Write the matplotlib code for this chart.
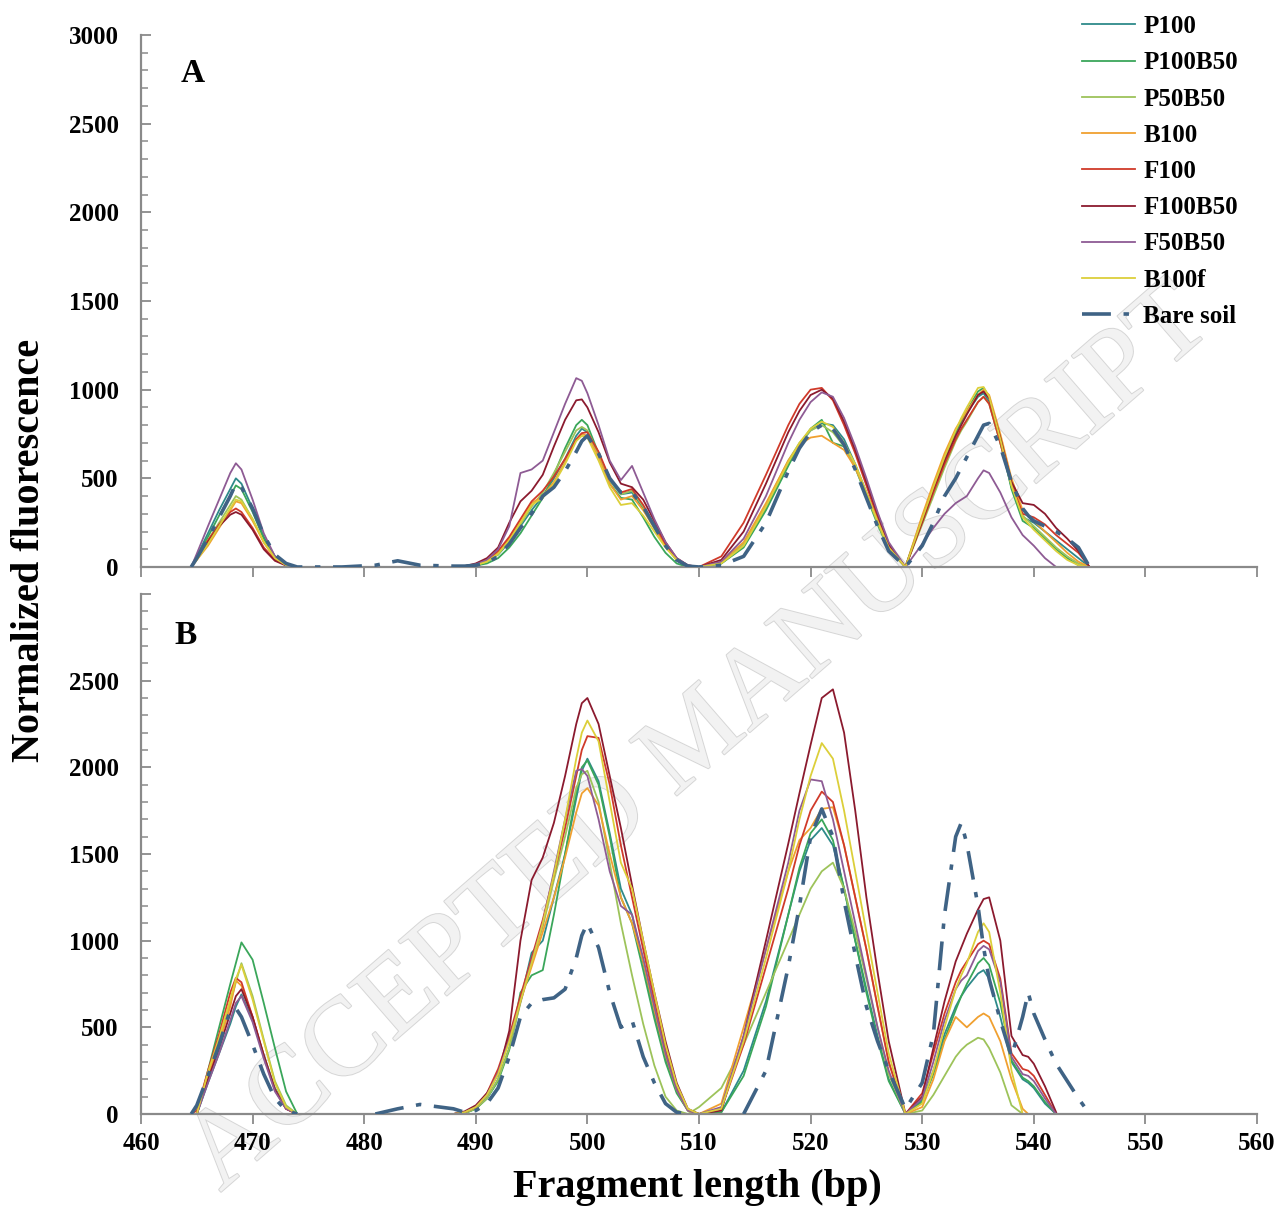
import numpy as np
import matplotlib
matplotlib.use("Agg")
import matplotlib.pyplot as plt
import matplotlib.patheffects as pe
from matplotlib.ticker import MultipleLocator

nan = float('nan')

# ---------------- data ----------------
X_BP = [464.5, 465, 466, 467, 468, 468.5, 469, 470, 471, 472, 473, 474,
        478, 481, 483, 485, 488,
        489, 490, 491, 492, 493, 494, 495, 496, 497, 498, 499, 499.5, 500, 501, 502, 503, 504, 505, 506, 507, 508, 509, 510,
        512, 514, 516, 518, 519, 520, 521, 522, 523, 524, 525, 526, 527, 528.5,
        530, 531, 532, 533, 533.5, 534, 535, 535.5, 536, 537, 538, 539, 539.5, 540, 541, 542, 543, 544, 545]

SERIES = ["P100", "P100B50", "P50B50", "B100", "F100", "F100B50", "F50B50", "B100f", "Bare soil"]

# Panel A
A_P100 = [0, 60, 190, 320, 440, 500, 470, 330, 170, 60, 15, 0,
          0, 0, 0, 0, 0,
          5, 10, 30, 70, 140, 230, 320, 400, 500, 610, 740, 780, 760, 640, 490, 410, 420, 330, 220, 120, 40, 5, 0,
          20, 120, 330, 580, 690, 770, 810, 800, 720, 580, 420, 260, 110, 0,
          280, 450, 620, 760, 820, 870, 960, 980, 930, 700, 450, 280, 265, 250, 200, 150, 100, 50, 0]
A_P100B50 = [0, 55, 170, 290, 400, 460, 440, 310, 160, 60, 15, 0,
             0, 0, 0, 0, 0,
             3, 8, 20, 50, 110, 190, 290, 390, 520, 670, 800, 830, 800, 640, 470, 390, 380, 280, 170, 80, 20, 0, 0,
             20, 110, 320, 570, 690, 780, 830, 700, 680, 560, 400, 240, 100, 0,
             260, 430, 600, 760, 820, 880, 990, 1010, 960, 720, 440, 260, 240, 220, 160, 100, 50, 10, 0]
A_P50B50 = [0, 50, 150, 250, 350, 400, 380, 270, 140, 50, 10, 0,
            0, 0, 0, 0, 0,
            5, 10, 30, 70, 150, 240, 340, 420, 530, 650, 770, 790, 770, 640, 490, 410, 430, 340, 230, 120, 40, 5, 0,
            25, 130, 350, 600, 700, 770, 800, 760, 680, 560, 410, 250, 100, 0,
            240, 400, 560, 710, 770, 820, 930, 960, 920, 700, 460, 290, 260, 230, 170, 110, 60, 20, 0]
A_B100 = [0, 40, 120, 220, 320, 370, 360, 260, 140, 50, 10, 0,
          0, 0, 0, 0, 0,
          5, 12, 35, 80, 160, 260, 360, 400, 480, 590, 720, 750, 740, 620, 470, 380, 400, 320, 220, 120, 40, 5, 0,
          30, 140, 360, 600, 690, 730, 740, 700, 660, 560, 420, 260, 110, 0,
          290, 470, 640, 780, 830, 880, 970, 1000, 970, 750, 500, 320, 290, 260, 200, 140, 80, 30, 0]
A_F100 = [0, 50, 150, 240, 310, 330, 310, 220, 110, 40, 10, 0,
          0, 0, 0, 0, 0,
          5, 15, 40, 90, 170, 270, 370, 430, 510, 610, 720, 755, 760, 650, 500, 420, 440, 350, 240, 130, 45, 8, 0,
          60, 250, 520, 800, 920, 1000, 1010, 940, 800, 640, 460, 280, 120, 0,
          250, 420, 580, 720, 780, 830, 930, 960, 920, 700, 470, 300, 290, 280, 240, 180, 130, 80, 0]
A_F100B50 = [0, 45, 140, 230, 295, 310, 295, 210, 100, 35, 8, 0,
             0, 0, 0, 0, 0,
             5, 20, 50, 110, 250, 370, 430, 520, 680, 830, 940, 945, 900, 760, 590, 470, 450, 380, 260, 140, 50, 10, 0,
             40, 200, 470, 760, 880, 970, 1000, 950, 820, 660, 480, 300, 130, 0,
             260, 440, 600, 740, 800, 860, 970, 990, 950, 730, 480, 360, 355, 350, 300, 220, 160, 90, 0]
A_F50B50 = [0, 75, 230, 380, 530, 585, 550, 380, 190, 60, 10, 0,
            0, 0, 0, 0, 0,
            5, 15, 40, 100, 230, 530, 550, 600, 760, 920, 1065, 1050, 980, 800, 600, 490, 570, 420, 270, 140, 50, 10, 0,
            30, 160, 400, 700, 830, 930, 985, 960, 840, 680, 500, 310, 140, 0,
            130, 220, 300, 360, 380, 400, 500, 545, 530, 420, 280, 180, 150, 120, 50, 0, nan, nan, nan]
A_B100f = [0, 40, 130, 230, 330, 380, 370, 270, 140, 50, 10, 0,
           0, 0, 0, 0, 0,
           5, 10, 30, 75, 150, 250, 350, 390, 470, 580, 710, 740, 730, 600, 450, 350, 360, 290, 200, 110, 40, 5, 0,
           20, 120, 340, 590, 700, 780, 820, 790, 700, 580, 420, 260, 110, 0,
           270, 450, 620, 770, 840, 900, 1010, 1015, 960, 720, 460, 280, 245, 210, 150, 90, 40, 10, 0]
A_BARE = [0, 50, 160, 280, 400, 470, 450, 330, 180, 70, 20, 0,
          0, 10, 35, 10, 5,
          5, 10, 25, 60, 130, 220, 300, 400, 450, 540, 650, 710, 740, 640, 500, 420, 420, 340, 230, 120, 40, 5, 0,
          10, 60, 250, 540, 670, 760, 800, 780, 690, 550, 390, 230, 90, 0,
          120, 250, 400, 500, 560, 620, 740, 800, 810, 680, 480, 330, 290, 260, 230, 200, 160, 110, 0]

# Panel B
B_P100 = [0, 0, 180, 350, 520, 620, 690, 540, 340, 150, 40, 0,
          nan, nan, nan, nan, 0,
          5, 30, 90, 200, 380, 650, 930, 1000, 1250, 1500, 1820, 1980, 2050, 1920, 1620, 1300, 1150, 870, 580, 320, 130, 20, 0,
          10, 250, 650, 1150, 1400, 1580, 1650, 1550, 1300, 1000, 720, 450, 200, 0,
          80, 250, 460, 620, 680, 730, 810, 830, 780, 560, 300, 200, 180, 150, 60, 0, nan, nan, nan]
B_P100B50 = [0, 0, 250, 500, 750, 870, 990, 890, 640, 380, 130, 0,
             nan, nan, nan, nan, 0,
             5, 30, 90, 190, 370, 700, 800, 830, 1150, 1500, 1850, 2000, 2040, 1900, 1600, 1250, 1100, 830, 550, 300, 120, 20, 0,
             10, 220, 620, 1150, 1420, 1620, 1700, 1580, 1300, 1000, 700, 430, 190, 0,
             70, 230, 430, 600, 680, 750, 870, 900, 860, 640, 310, 210, 190, 160, 70, 0, nan, nan, nan]
B_P50B50 = [0, 0, 220, 420, 640, 760, 870, 680, 430, 190, 50, 0,
            nan, nan, nan, nan, 0,
            5, 30, 90, 200, 380, 640, 880, 1080, 1350, 1600, 1880, 1960, 1980, 1800, 1450, 1100, 800, 520, 280, 100, 20, 0, 40,
            150, 400, 700, 1000, 1150, 1300, 1400, 1450, 1300, 1050, 780, 500, 230, 0,
            20, 110, 220, 330, 370, 400, 440, 430, 380, 240, 50, 0, nan, nan, nan, nan, nan, nan, nan]
B_B100 = [0, 0, 220, 410, 620, 770, 740, 560, 340, 140, 30, 0,
          nan, nan, nan, nan, 0,
          10, 40, 110, 240, 430, 650, 850, 1050, 1250, 1480, 1740, 1850, 1880, 1780, 1500, 1250, 1100, 880, 600, 340, 140, 20, 0,
          60, 500, 950, 1400, 1580, 1650, 1760, 1770, 1550, 1250, 950, 620, 300, 0,
          40, 200, 420, 560, 530, 500, 560, 580, 560, 420, 200, 30, 0, nan, nan, nan, nan, nan, nan]
B_F100 = [0, 20, 250, 460, 700, 785, 760, 560, 330, 140, 30, 0,
          nan, nan, nan, nan, 0,
          10, 40, 120, 260, 450, 680, 900, 1120, 1380, 1650, 1950, 2100, 2180, 2170, 1900, 1550, 1250, 950, 650, 370, 150, 25, 0,
          30, 400, 850, 1300, 1550, 1750, 1860, 1800, 1550, 1250, 950, 620, 300, 0,
          120, 350, 580, 760, 830, 880, 980, 1000, 980, 780, 350, 260, 250, 220, 110, 0, nan, nan, nan]
B_F100B50 = [0, 0, 200, 380, 580, 680, 720, 560, 340, 140, 30, 0,
             nan, nan, nan, nan, 0,
             15, 50, 120, 230, 480, 1000, 1350, 1480, 1680, 1950, 2250, 2370, 2400, 2250, 1950, 1650, 1320, 1000, 700, 420, 180, 30, 0,
             20, 450, 1000, 1560, 1850, 2130, 2400, 2450, 2200, 1750, 1250, 820, 420, 0,
             100, 380, 650, 880, 960, 1040, 1180, 1240, 1250, 1000, 450, 340, 330, 290, 160, 10, nan, nan, nan]
B_F50B50 = [0, 0, 180, 350, 540, 640, 680, 530, 320, 130, 30, 0,
            nan, nan, nan, nan, 0,
            10, 40, 110, 240, 430, 650, 880, 1100, 1400, 1700, 1980, 1990, 1950, 1700, 1400, 1200, 1150, 900, 620, 350, 140, 20, 0,
            40, 450, 950, 1450, 1750, 1930, 1920, 1700, 1400, 1100, 800, 500, 250, 0,
            90, 300, 540, 720, 770, 800, 940, 970, 950, 760, 330, 230, 220, 190, 90, 0, nan, nan, nan]
B_B100f = [0, 0, 240, 440, 660, 780, 860, 660, 420, 180, 40, 0,
           nan, nan, nan, nan, 0,
           10, 40, 110, 230, 420, 650, 870, 1100, 1380, 1700, 2050, 2200, 2270, 2150, 1800, 1450, 1300, 1000, 700, 400, 170, 30, 0,
           30, 420, 900, 1400, 1700, 1950, 2140, 2050, 1750, 1400, 1050, 700, 350, 0,
           60, 250, 500, 720, 800, 870, 1050, 1100, 1050, 700, 250, 0, nan, nan, nan, nan, nan, nan, nan]
B_BARE = [0, 50, 220, 400, 600, 610, 560, 400, 230, 90, 20, 0,
          nan, 0, 30, 55, 30,
          10, 20, 60, 150, 330, 560, 640, 660, 670, 720, 900, 1030, 1100, 960, 700, 500, 540, 330, 180, 60, 10, 0, nan,
          nan, 0, 250, 850, 1200, 1600, 1760, 1600, 1230, 920, 620, 420, 250, 30,
          180, 460, 1150, 1600, 1680, 1560, 1200, 960, 780, 540, 330, 560, 700, 580, 430, 290, 190, 90, 0]

Y_TICKS = [0, 500, 1000, 1500, 2000, 2500, 3000]
X_TICKS = [460, 470, 480, 490, 500, 510, 520, 530, 540, 550, 560]

COLORS = ["#2e8a8a", "#3aa65a", "#9dc35a", "#f0a030", "#d03a2a", "#8b1a2e", "#8e5b94", "#dccf3a", "#3f6385"]

PANEL_A = [A_P100, A_P100B50, A_P50B50, A_B100, A_F100, A_F100B50, A_F50B50, A_B100f, A_BARE]
PANEL_B = [B_P100, B_P100B50, B_P50B50, B_B100, B_F100, B_F100B50, B_F50B50, B_B100f, B_BARE]
for arr in PANEL_A + PANEL_B:
    assert len(arr) == len(X_BP), len(arr)

# ---------------- figure ----------------
FONT = "Liberation Serif"
plt.rcParams["font.family"] = [FONT, "DejaVu Serif"]
plt.rcParams["font.weight"] = "bold"

fig = plt.figure(figsize=(12.75, 12.09), dpi=100)
W, H = 1275, 1209
axA = fig.add_axes([141 / W, 1 - 567 / H, 1116 / W, (567 - 35) / H])
axB = fig.add_axes([141 / W, 1 - 1114 / H, 1116 / W, (1114 - 594) / H])

# watermark
fig.text(700 / W, 1 - 740 / H, "ACCEPTED MANUSCRIPT", rotation=41, ha="center", va="center",
         fontsize=80, family="Liberation Serif", weight="normal", color="#f2f2f2", zorder=-5,
         path_effects=[pe.withStroke(linewidth=1.4, foreground="#d6d6d6")])

x = np.array(X_BP)
for ax, data in ((axA, PANEL_A), (axB, PANEL_B)):
    ax.set_facecolor("none")
    for name, col, vals in zip(SERIES, COLORS, data):
        y = np.array(vals, dtype=float)
        if name == "Bare soil":
            ax.plot(x, y, color=col, lw=2.6, dashes=(8, 3.5, 1.5, 3.5), label=name, zorder=3)
        else:
            ax.plot(x, y, color=col, lw=1.3, label=name, zorder=2)
    ax.set_xlim(460, 560)
    ax.set_ylim(0, 3000)
    for s in ("top", "right"):
        ax.spines[s].set_visible(False)
    for s in ("left", "bottom"):
        ax.spines[s].set_color("#8a8a8a")
        ax.spines[s].set_linewidth(1.6)
    ax.set_xticks(X_TICKS)
    ax.yaxis.set_minor_locator(MultipleLocator(100))
    ax.tick_params(axis="y", which="major", direction="in", length=7, width=1.3, color="#8a8a8a",
                   pad=16, labelsize=18)
    ax.tick_params(axis="y", which="minor", direction="in", length=5, width=1.1, color="#8a8a8a")
    ax.tick_params(axis="x", which="major", direction="out", length=7, width=1.3, color="#8a8a8a",
                   pad=6, labelsize=18)

axA.set_yticks(Y_TICKS)
axA.set_yticklabels([str(v) for v in Y_TICKS])
axA.set_xticklabels([])
axB.set_yticks(Y_TICKS)
axB.set_yticklabels([str(v) for v in Y_TICKS[:-1]] + [""])
axB.set_xticklabels([str(v) for v in X_TICKS])
for ax in (axA, axB):
    for lab in ax.get_xticklabels() + ax.get_yticklabels():
        lab.set_fontweight("bold")

axA.text(193 / W, 1 - 74 / H, "A", transform=fig.transFigure, ha="center", va="center",
         fontsize=24, fontweight="bold")
axB.text(186 / W, 1 - 635 / H, "B", transform=fig.transFigure, ha="center", va="center",
         fontsize=24, fontweight="bold")

fig.text(30 / W, 1 - 550 / H, "Normalized fluorescence", rotation=90, ha="center", va="center",
         fontsize=29, fontweight="bold")
fig.text(697 / W, 1 - 1188 / H, "Fragment length (bp)", ha="center", va="center",
         fontsize=29, fontweight="bold")

leg = axA.legend(loc="upper left", bbox_to_anchor=(1082 / W, 1 - 15 / H), bbox_transform=fig.transFigure,
                 frameon=False, fontsize=18, handlelength=2.1, handletextpad=0.35, labelspacing=0.53,
                 borderpad=0, borderaxespad=0)
for t in leg.get_texts():
    t.set_fontweight("bold")

fig.savefig("out.png", dpi=100)
